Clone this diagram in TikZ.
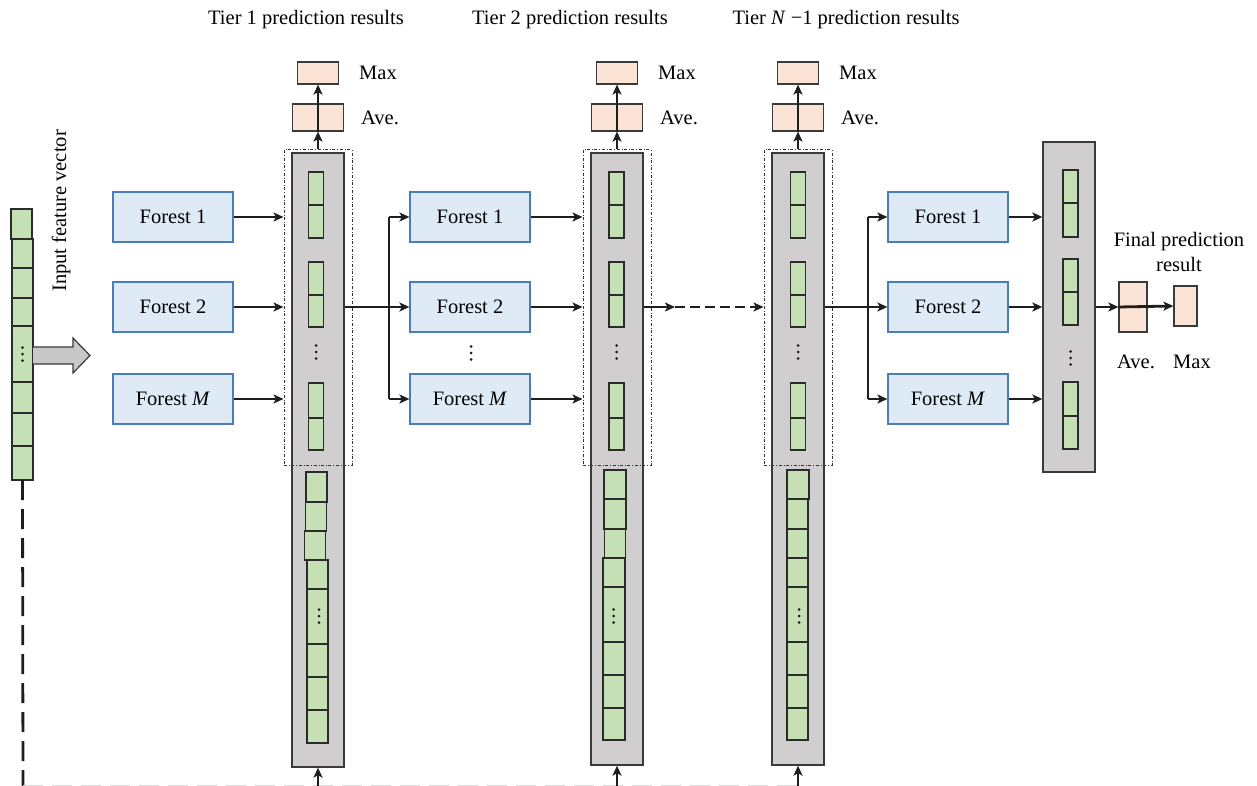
\documentclass[tikz,border=0pt]{standalone}
\usepackage{fontspec}
\setmainfont{Liberation Serif}
\usetikzlibrary{arrows.meta}

\definecolor{cellgreen}{HTML}{C5E0B4}
\definecolor{cellline}{HTML}{2B2B2B}
\definecolor{colfill}{HTML}{D0CECE}
\definecolor{colline}{HTML}{3A3A3A}
\definecolor{resfill}{HTML}{FBE3D6}
\definecolor{forestfill}{HTML}{DEEBF7}
\definecolor{forestline}{HTML}{4A7EBB}
\definecolor{linecol}{HTML}{1E1E1E}
\definecolor{dashline}{HTML}{333333}
\definecolor{arrowgray}{HTML}{C8C8C8}

% one green cell: name, x centre, top, bottom, width
\newcommand\gcell[5]{\node[cellbox, minimum width=#5pt, minimum height={(#4-#3)*1pt}] (#1) at (#2,{(#3+#4)/2}) {};}

\tikzset{
  forestbox/.style={draw=forestline, fill=forestfill, line width=1.2pt,
    minimum width=120pt, minimum height=50pt, inner sep=0pt},
  graycol/.style={draw=colline, fill=colfill, line width=1.3pt, inner sep=0pt},
  cellbox/.style={draw=cellline, fill=cellgreen, line width=1.2pt, inner sep=0pt, outer sep=0pt},
  resbox/.style={draw=colline, fill=resfill, line width=1.2pt, inner sep=0pt},
  tierbox/.style={draw=dashline, dash dot, line width=1pt, inner sep=0pt},
  link/.style={draw=linecol, line width=2.8pt},
  tip/.style={-{Stealth[length=10pt,width=9pt,inset=2.5pt]}},
  arr/.style={link, tip},
  lbl/.style={inner sep=0pt},
  vdots/.pic={
    \fill[linecol] (0,-6.5) circle[radius=1.5pt];
    \fill[linecol] (0,0) circle[radius=1.5pt];
    \fill[linecol] (0,6.5) circle[radius=1.5pt];
  }
}

\begin{document}
\begin{tikzpicture}[x=1pt, y=-1pt, font=\fontsize{20.5}{25}\selectfont]
\useasboundingbox (0,0) rectangle (1257,786);

% ---------------- input feature vector ----------------
\gcell{v1}{21.5}{209}{239}{21}
\gcell{v2}{22.5}{239}{268}{21}
\gcell{v3}{22.5}{268}{298}{21}
\gcell{v4}{22.5}{298}{326}{21}
\gcell{v5}{22.5}{326}{382}{21}
\gcell{v6}{22.5}{382}{413}{21}
\gcell{v7}{22.5}{413}{446}{21}
\gcell{v8}{22.5}{446}{480}{21}
\pic at (v5) {vdots};
\node[lbl, rotate=90] (inlbl) at (61,211) {Input feature vector};
\draw[draw=colline, fill=arrowgray, line width=1.2pt]
  (v5.east |- 0,347) -- (73,347) -- (73,338) -- (90,355.5) -- (73,373) -- (73,364) -- (v5.east |- 0,364);
\coordinate (vb) at (23,786);
\draw[link, line width=2.8pt, dash pattern=on 20pt off 9pt] (v8.south) -- (vb);
\draw[draw=black!14, line width=1.2pt, dash pattern=on 20pt off 9pt] (23,786) -- (800,786);

% ---------------- tier columns ----------------
\node[graycol, minimum width=52pt, minimum height=614pt] (g1) at (318,460) {};
\node[graycol, minimum width=52pt, minimum height=612pt] (g2) at (617,459) {};
\node[graycol, minimum width=52pt, minimum height=612pt] (g3) at (798,459) {};
\node[graycol, minimum width=52pt, minimum height=330pt] (g4) at (1069,307) {};

% upper result cells
\foreach \c/\x in {1/316, 2/616.5, 3/798}{
  \gcell{u\c a}{\x}{172}{205}{15}
  \gcell{u\c b}{\x}{205}{238}{15}
  \gcell{u\c c}{\x}{262}{295}{15}
  \gcell{u\c d}{\x}{295}{327}{15}
  \gcell{u\c e}{\x}{383}{418}{15}
  \gcell{u\c f}{\x}{418}{450}{15}
  \pic at (\x,352) {vdots};
}
\gcell{u4a}{1070.5}{170}{203}{15}
\gcell{u4b}{1070.5}{203}{237}{15}
\gcell{u4c}{1070.5}{259}{292}{15}
\gcell{u4d}{1070.5}{292}{325}{15}
\gcell{u4e}{1070.5}{382}{416}{15}
\gcell{u4f}{1070.5}{416}{449}{15}
\pic at (1070.5,358) {vdots};

% lower feature cells (concatenated input)
\gcell{l1a}{316.5}{472}{502}{21}
\gcell{l1b}{316}{502}{531}{21}
\gcell{l1c}{315}{531}{560}{21}
\gcell{l1d}{317.5}{560}{589}{21}
\gcell{l1e}{317.5}{589}{644}{21}
\gcell{l1f}{317.5}{644}{677}{21}
\gcell{l1g}{317.5}{677}{710}{21}
\gcell{l1h}{317.5}{710}{743}{21}
\pic at (319,616) {vdots};

\gcell{l2a}{615}{470}{499}{22}
\gcell{l2b}{615}{499}{529}{22}
\gcell{l2c}{615}{529}{558}{21}
\gcell{l2d}{614}{558}{587}{22}
\gcell{l2e}{614}{587}{642}{22}
\gcell{l2f}{614}{642}{675}{22}
\gcell{l2g}{614}{675}{708}{22}
\gcell{l2h}{614}{708}{740}{22}
\pic at (613.5,616) {vdots};

\gcell{l3a}{798}{470}{499}{22}
\gcell{l3b}{797.5}{499}{529}{21}
\gcell{l3c}{797.5}{529}{558}{21}
\gcell{l3d}{797.5}{558}{587}{21}
\gcell{l3e}{797.5}{587}{642}{21}
\gcell{l3f}{797.5}{642}{675}{21}
\gcell{l3g}{797.5}{675}{708}{21}
\gcell{l3h}{797.5}{708}{740}{21}
\pic at (799,616) {vdots};

% dash-dot frames around each tier's prediction results
\node[tierbox, minimum width=68pt, minimum height=315pt] (d1) at (318,307.5) {};
\node[tierbox, minimum width=68pt, minimum height=315pt] (d2) at (617,307.5) {};
\node[tierbox, minimum width=68pt, minimum height=315pt] (d3) at (798,307.5) {};

% ---------------- forests ----------------
\foreach \c/\x in {1/173, 2/470, 3/948}{
  \node[forestbox] (f\c1) at (\x,217) {Forest 1};
  \node[forestbox] (f\c2) at (\x,307) {Forest 2};
  \node[forestbox] (f\c3) at (\x,399) {Forest \textit{M}};
}
\pic at (471,353) {vdots};

% ---------------- averaging / max boxes ----------------
\foreach \c/\x in {1/318, 2/617, 3/798}{
  \node[resbox, minimum width=51pt, minimum height=27pt] (a\c) at (\x,117.5) {};
  \node[resbox, minimum width=41pt, minimum height=22pt] (m\c) at (\x,73) {};
  \node[lbl, anchor=west] (ml\c) at (\x+41,73) {Max};
  \node[lbl, anchor=west] (al\c) at (\x+43,118) {Ave.};
  \draw[arr] (d\c.north) -- (a\c.south);
  \draw[arr] (a\c.south) -- (m\c.south);
}
\node[lbl] (t1) at (306,20) {Tier 1 prediction results};
\node[lbl] (t2) at (570,20) {Tier 2 prediction results};
\node[lbl] (t3) at (846,20) {Tier \textit{N} −1 prediction results};

% final result
\node[resbox, minimum width=28pt, minimum height=50pt] (fa) at (1133,307) {};
\node[resbox, minimum width=23pt, minimum height=40pt] (fm) at (1185.5,306) {};
\node[lbl, align=center] (fl) at (1179,252) {Final prediction\\result};
\node[lbl] (fal) at (1136,362) {Ave.};
\node[lbl] (fml) at (1192,362) {Max};

% ---------------- connectors ----------------
\foreach \c in {1,2}{
  \draw[arr] (f\c1.east) -- (f\c1 -| d\c.west);
  \draw[arr] (f\c2.east) -- (f\c2 -| d\c.west);
  \draw[arr] (f\c3.east) -- (f\c3 -| d\c.west);
}
\draw[arr] (f31.east) -- (f31 -| g4.west);
\draw[arr] (f32.east) -- (f32 -| g4.west);
\draw[arr] (f33.east) -- (f33 -| g4.west);

% tier 1 -> tier 2 forests
\coordinate (b1) at (389,307);
\draw[link] (g1.east |- b1) -- (b1);
\draw[link] (b1 |- f21) -- (b1 |- f23);
\draw[arr] (b1 |- f21) -- (f21.west);
\draw[arr] (b1) -- (f22.west);
\draw[arr] (b1 |- f23) -- (f23.west);

% tier 2 -> ... -> tier N-1
\coordinate (c2) at (675,307);
\draw[arr] (g2.east |- c2) -- (c2);
\draw[link, dash pattern=on 10pt off 5pt, tip] (c2) -- (c2 -| d3.west);

% tier N-1 -> final forests
\coordinate (b3) at (868,307);
\draw[link] (g3.east |- b3) -- (b3);
\draw[link] (b3 |- f31) -- (b3 |- f33);
\draw[arr] (b3 |- f31) -- (f31.west);
\draw[arr] (b3) -- (f32.west);
\draw[arr] (b3 |- f33) -- (f33.west);

% final averaging and max
\draw[arr] (g4.east |- fa) -- (fa.west);
\draw[arr] (fa.west) -- (fm.west);

% concatenated input entering each tier from below
\coordinate (i1) at (318,786);
\coordinate (i2) at (617,786);
\coordinate (i3) at (798,786);
\draw[arr] (i1) -- (g1.south);
\draw[arr] (i2) -- (g2.south);
\draw[arr] (i3) -- (g3.south);
\end{tikzpicture}
\end{document}
